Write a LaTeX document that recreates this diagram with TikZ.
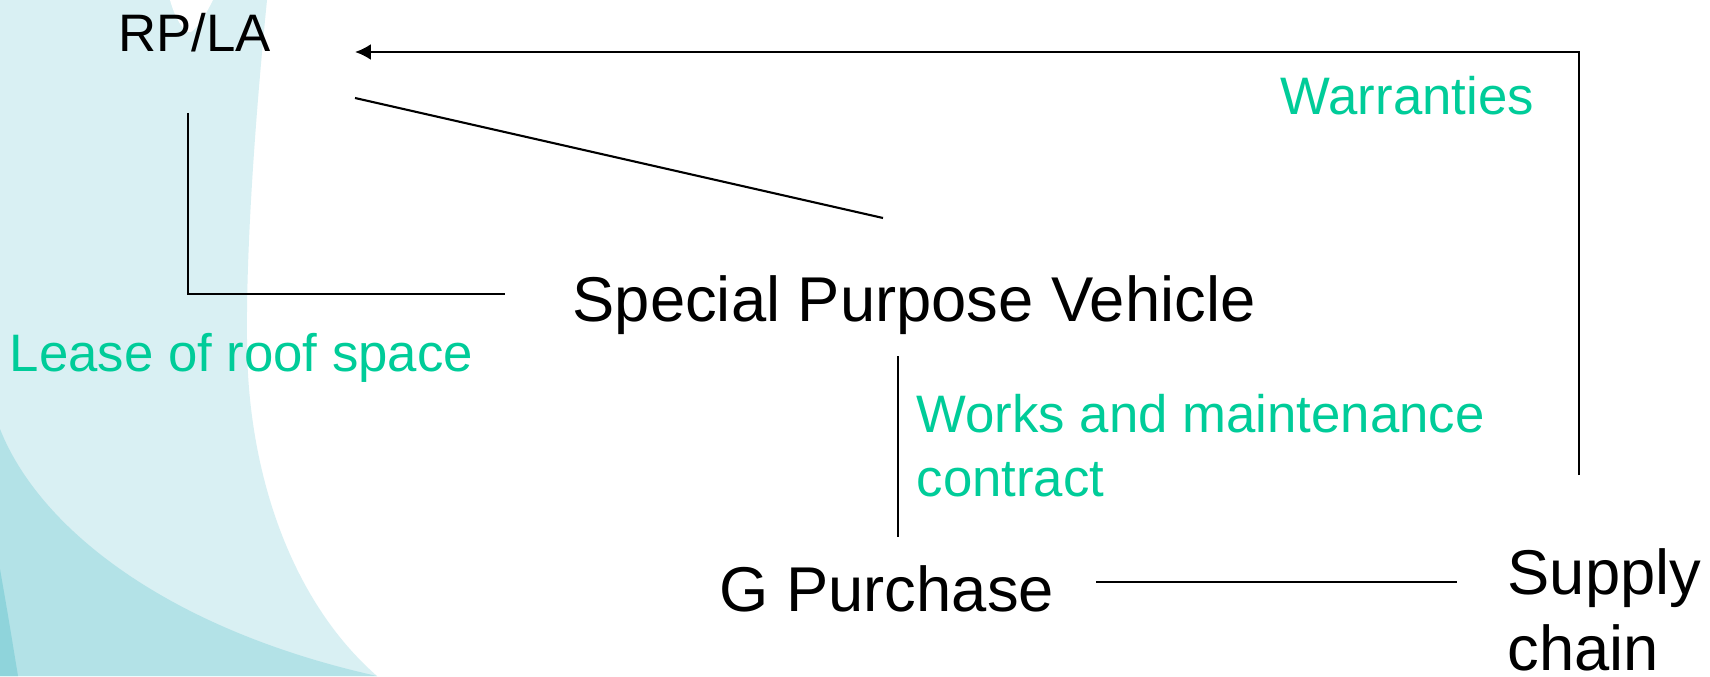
\documentclass[tikz,border=0pt]{standalone}
\usepackage{fontspec}
\setmainfont{Liberation Sans}
\usepackage{tikz}
\usetikzlibrary{arrows.meta,positioning}
\definecolor{verde}{HTML}{00CC99}
\definecolor{fondoa}{HTML}{D9F0F3}
\definecolor{fondob}{HTML}{B3E2E7}
\definecolor{fondoc}{HTML}{8FD4DB}
\tikzset{
    parte/.style={anchor=base west,inner sep=0pt,node font=\fontsize{18}{21.6}\selectfont},
    rotulo/.style={anchor=base west,inner sep=0pt,node font=\fontsize{15}{18}\selectfont,text=verde},
    linea/.style={draw,line width=0.6pt},
    flecha/.style={draw,line width=0.6pt,-{Latex[length=4.5pt,width=4.5pt]}},
}
\begin{document}
\begin{tikzpicture}[x=0.01cm,y=-0.01cm]
    \useasboundingbox (0,0) rectangle (1710,676);
    % fondo
    \fill [white] (0,0) rectangle (1710,676);
    \fill [fondoa] (0,0) -- (267,0) .. controls (255,120) and (246,250) .. (247,340)
        .. controls (247,470) and (290,600) .. (377,676) -- (0,676) -- cycle;
    \fill [white] (170,0) .. controls (176,22) and (186,34) .. (191,32) .. controls (198,28) and (207,12) .. (213,0) -- cycle;
    \fill [fondob] (0,429) .. controls (40,530) and (170,630) .. (377,676) -- (0,676) -- cycle;
    \fill [fondoc] (0,569) .. controls (8,615) .. (18,676) -- (0,676) -- cycle;
    % nodos (los de dos lineas van por la base de la ultima)
    \node [parte,node font=\fontsize{15}{18}\selectfont] (rpla) at (118,52) {RP/LA};
    \node [parte] (spv) at (572,321) {Special Purpose Vehicle};
    \node [parte] (gpurch) at (719,611) {G Purchase};
    \node [parte,align=left] (supply) at (1507,670) {Supply\\chain};
    \node [rotulo] (warr) at (1280,115) {Warranties};
    \node [rotulo] (lease) at (9,371) {Lease of roof space};
    \node [rotulo,align=left] (works) at (916,496) {Works and maintenance\\contract};
    % conectores
    \coordinate (sup-a) at (1579,475);
    \coordinate (rp-a) at (355,52);
    \coordinate (rp-b) at (355,98);
    \coordinate (spv-b) at (883,218);
    \coordinate (rp-c) at (188,113);
    \coordinate (spv-c) at (505,294);
    \coordinate (spv-d) at (898,356);
    \coordinate (gp-d) at (898,537);
    \coordinate (gp-e) at (1096,582);
    \coordinate (sup-e) at (1457,582);
    \path [flecha] (sup-a) |- (rp-a);
    \path [linea] (rp-b) -- (spv-b);
    \path [linea] (rp-c) |- (spv-c);
    \path [linea] (spv-d) -- (gp-d);
    \path [linea] (gp-e) -- (sup-e);
\end{tikzpicture}
\end{document}
